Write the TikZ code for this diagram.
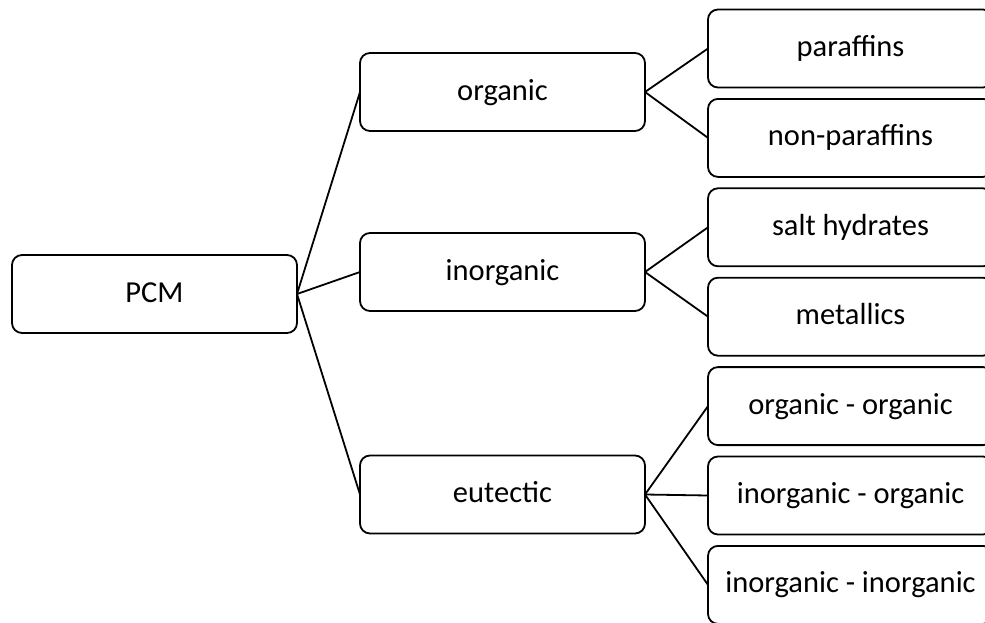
\documentclass[tikz,border=0pt]{standalone}
\usepackage{fontspec}
\setmainfont{Carlito}
\usetikzlibrary{positioning}

\begin{document}
\begin{tikzpicture}[line width=1.8pt]
			\tikzset {node distance=11.4pt and 63pt, every node/.style={font=\fontsize{30.5pt}{36pt}\selectfont}, block/.style={draw, line width=1.8pt, rounded corners=10pt, minimum width=285pt, minimum height=78pt, inner sep=0pt, outer sep=0pt, text height=22pt, text depth=6pt}, link/.style={draw, line width=1.8pt} }

			\useasboundingbox (-154.5pt,-328pt) rectangle (830.5pt,294pt);
			\clip (-154.5pt,-328pt) rectangle (830.5pt,294pt);

			\node[block] (pcm) {PCM};
			\node[block, right=of pcm, yshift=202pt] (org) {organic};
			\node[block, right=of pcm, yshift=22pt] (inorg) {inorganic};
			\node[block, right=of pcm, yshift=-200.5pt] (eut) {eutectic};
			\node[block, right=of org, yshift=43.5pt] (par) {paraffins};
			\node[block, below=of par] (nonpar) {non-paraffins};
			\node[block, below=of nonpar] (salt) {salt hydrates};
			\node[block, below=of salt] (metal) {metallics};
			\node[block, below=of metal] (oo) {organic - organic};
			\node[block, below=of oo] (io) {inorganic - organic};
			\node[block, below=of io] (ii) {inorganic - inorganic};

			\draw[link]
				(pcm.east) edge (org.west)
				(pcm.east) edge (inorg.west)
				(pcm.east) edge (eut.west)
				(org.east) edge (par.west)
				(org.east) edge (nonpar.west)
				(inorg.east) edge (salt.west)
				(inorg.east) edge (metal.west)
				(eut.east) edge (oo.west)
				(eut.east) edge (io.west)
				(eut.east) edge (ii.west);
		\end{tikzpicture}
\end{document}
